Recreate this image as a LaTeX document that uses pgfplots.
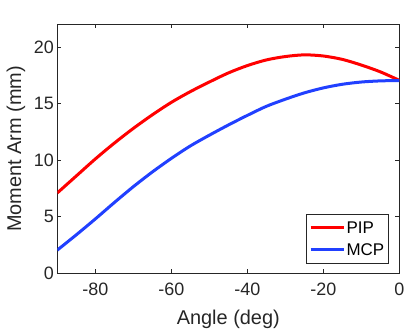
\documentclass[border=0pt]{standalone}
\usepackage{fontspec}
\setmainfont{Liberation Sans}
\usepackage{pgfplots}
\pgfplotsset{compat=1.18}
\definecolor{axgray}{rgb}{0.15,0.15,0.15}
\definecolor{pipred}{rgb}{1,0,0}
\definecolor{mcpblue}{rgb}{0.13,0.25,1}
\begin{document}
\begin{tikzpicture}
\begin{axis}[
    scale only axis,
    width=342bp, height=249bp,
    xmin=-90, xmax=0, ymin=0, ymax=22,
    xtick={-80,-60,-40,-20,0},
    ytick={0,5,10,15,20},
    tick align=inside,
    major tick length=4bp,
    axis line style={axgray, line width=0.6bp},
    tick style={axgray, line width=0.6bp},
    /pgf/number format/assume math mode=true,
    ticklabel style={font=\fontsize{18}{20}\selectfont, text=axgray},
    xticklabel style={yshift=-6bp},
    label style={font=\fontsize{20}{22}\selectfont, text=axgray},
    xlabel={Angle (deg)},
    ylabel={Moment Arm (mm)},
    xlabel style={at={(axis description cs:0.5,-0.183)}, anchor=center},
    ylabel style={at={(axis description cs:-0.121,0.5)}, anchor=center},
    legend style={at={(0.97,0.04)}, anchor=south east, draw=axgray,
        line width=0.6bp,
        font=\fontsize{17}{19}\selectfont, text=black,
        inner xsep=3bp, inner ysep=5.9bp, row sep=6.8bp,
        nodes={inner sep=1.5bp, text height=12.2bp, text depth=0pt},
        cells={anchor=west}},
    legend image code/.code={\draw[#1] (0bp,0bp) -- (33bp,0bp);},
]
% PIP
\addplot[color=pipred, line width=3bp, smooth] coordinates {
    (-90,7.1) (-85,8.6) (-80,10.1) (-75,11.5) (-70,12.8) (-65,14.0)
    (-60,15.1) (-55,16.05) (-50,16.9) (-45,17.7) (-40,18.35) (-35,18.85)
    (-30,19.15) (-25,19.3) (-20,19.2) (-15,18.9) (-10,18.4) (-5,17.8) (0,17.05)
};
\addlegendentry{PIP}
% MCP
\addplot[color=mcpblue, line width=3bp, smooth] coordinates {
    (-90,2.05) (-85,3.4) (-80,4.8) (-75,6.25) (-70,7.65) (-65,8.95)
    (-60,10.15) (-55,11.25) (-50,12.2) (-45,13.1) (-40,13.95) (-35,14.75)
    (-30,15.38) (-25,15.94) (-20,16.38) (-15,16.7) (-10,16.9) (-5,17.0) (0,17.03)
};
\addlegendentry{MCP}
\end{axis}
\pgfresetboundingbox
\path ([xshift=-57.3bp,yshift=-57.7bp]current axis.south west)
  rectangle ([xshift=15.7bp,yshift=24.3bp]current axis.north east);
\end{tikzpicture}
\end{document}
